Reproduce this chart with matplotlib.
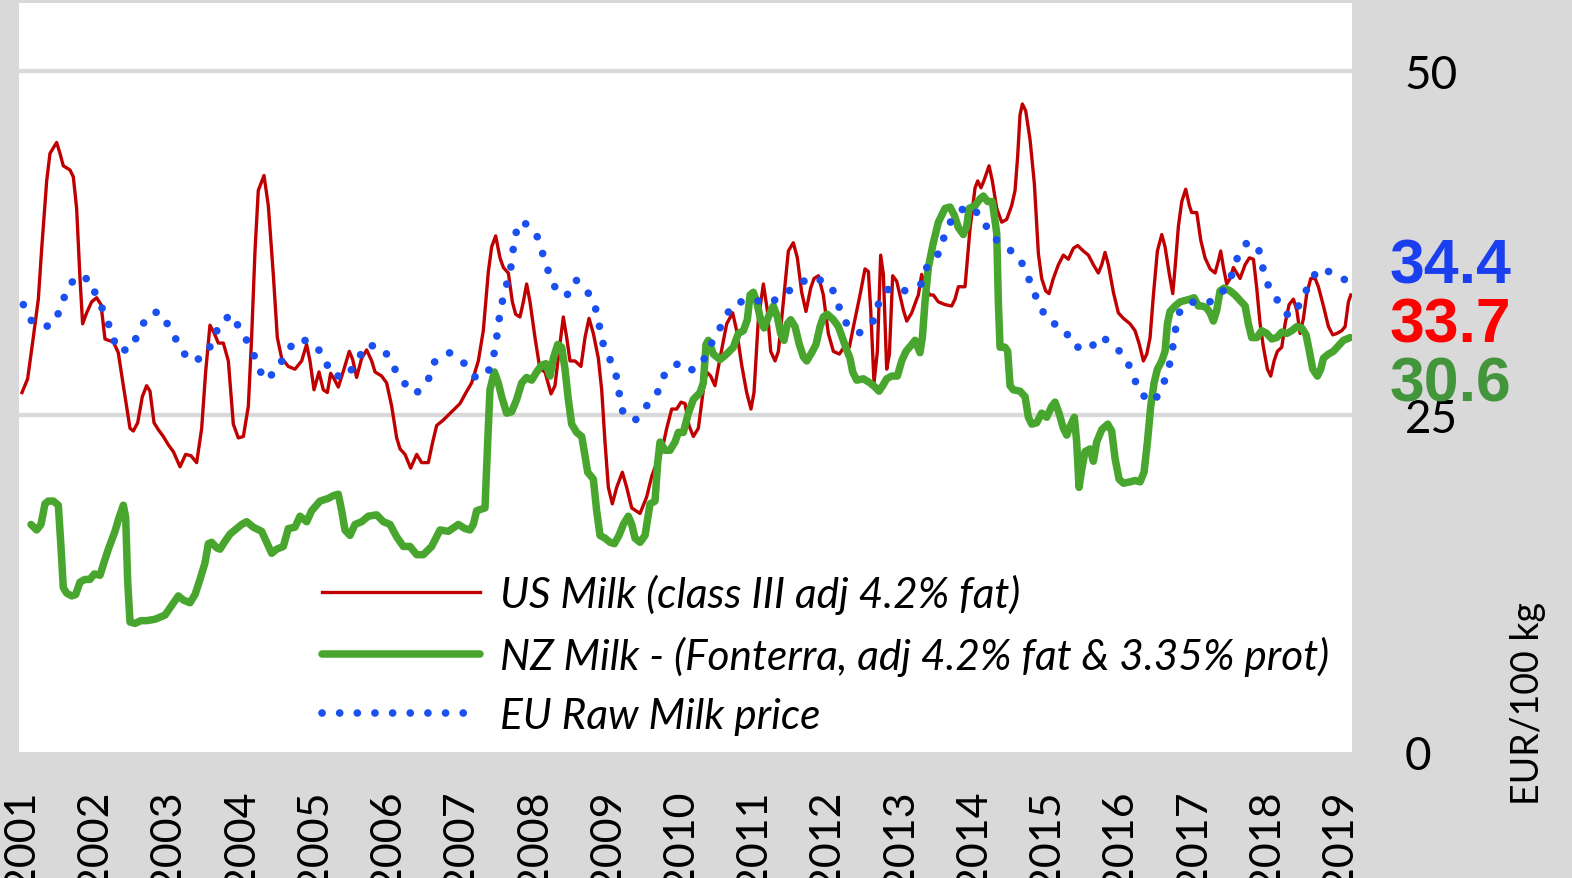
import matplotlib.pyplot as plt

plt.rcParams["font.family"] = ["Lato", "DejaVu Sans"]

# US Milk (class III adj 4.2% fat), EUR/100 kg
us_years = [
    2001.0, 2001.077, 2001.154, 2001.223, 2001.268, 2001.337, 2001.382, 2001.473, 2001.519, 2001.564,
    2001.655, 2001.701, 2001.746, 2001.792, 2001.828, 2001.883, 2001.951, 2002.019, 2002.079, 2002.133,
    2002.179, 2002.247, 2002.315, 2002.384, 2002.475, 2002.520, 2002.580, 2002.643, 2002.702, 2002.748,
    2002.803, 2002.862, 2002.930, 2002.998, 2003.067, 2003.158, 2003.235, 2003.308, 2003.385, 2003.454,
    2003.508, 2003.567, 2003.627, 2003.681, 2003.750, 2003.818, 2003.886, 2003.954, 2004.023, 2004.091,
    2004.136, 2004.182, 2004.227, 2004.305, 2004.364, 2004.432, 2004.487, 2004.546, 2004.637, 2004.728,
    2004.819, 2004.887, 2004.933, 2004.988, 2005.056, 2005.115, 2005.170, 2005.215, 2005.261, 2005.320,
    2005.397, 2005.470, 2005.516, 2005.570, 2005.639, 2005.707, 2005.776, 2005.821, 2005.912, 2005.980,
    2006.049, 2006.117, 2006.163, 2006.231, 2006.308, 2006.390, 2006.458, 2006.549, 2006.609, 2006.663,
    2006.754, 2006.868, 2006.982, 2007.064, 2007.141, 2007.232, 2007.300, 2007.369, 2007.414, 2007.469,
    2007.528, 2007.574, 2007.642, 2007.697, 2007.742, 2007.801, 2007.847, 2007.892, 2007.938, 2008.006,
    2008.074, 2008.143, 2008.225, 2008.279, 2008.334, 2008.393, 2008.439, 2008.484, 2008.552, 2008.634,
    2008.689, 2008.744, 2008.803, 2008.871, 2008.917, 2008.962, 2009.008, 2009.062, 2009.122, 2009.199,
    2009.258, 2009.327, 2009.440, 2009.531, 2009.600, 2009.668, 2009.736, 2009.805, 2009.873, 2009.941,
    2010.000, 2010.055, 2010.109, 2010.169, 2010.237, 2010.305, 2010.351, 2010.405, 2010.464, 2010.533,
    2010.624, 2010.706, 2010.760, 2010.829, 2010.897, 2010.956, 2010.997, 2011.056, 2011.125, 2011.179,
    2011.225, 2011.284, 2011.330, 2011.398, 2011.466, 2011.534, 2011.589, 2011.648, 2011.707, 2011.771,
    2011.817, 2011.876, 2011.944, 2012.012, 2012.081, 2012.163, 2012.226, 2012.299, 2012.363, 2012.445,
    2012.513, 2012.559, 2012.591, 2012.636, 2012.682, 2012.727, 2012.764, 2012.809, 2012.846, 2012.891,
    2012.946, 2013.037, 2013.083, 2013.151, 2013.219, 2013.242, 2013.287, 2013.333, 2013.401, 2013.446,
    2013.515, 2013.606, 2013.697, 2013.742, 2013.788, 2013.879, 2013.947, 2014.016, 2014.052, 2014.097,
    2014.143, 2014.207, 2014.252, 2014.312, 2014.380, 2014.448, 2014.516, 2014.562, 2014.598, 2014.630,
    2014.662, 2014.708, 2014.767, 2014.826, 2014.881, 2014.926, 2014.981, 2015.026, 2015.085, 2015.154,
    2015.222, 2015.290, 2015.359, 2015.418, 2015.495, 2015.564, 2015.632, 2015.700, 2015.746, 2015.791,
    2015.837, 2015.905, 2015.973, 2016.042, 2016.133, 2016.201, 2016.260, 2016.315, 2016.361, 2016.406,
    2016.452, 2016.506, 2016.566, 2016.611, 2016.670, 2016.716, 2016.748, 2016.793, 2016.839, 2016.893,
    2016.943, 2016.975, 2017.044, 2017.098, 2017.157, 2017.226, 2017.294, 2017.340, 2017.371, 2017.408,
    2017.453, 2017.499, 2017.544, 2017.590, 2017.635, 2017.704, 2017.763, 2017.818, 2017.863, 2017.909,
    2017.954, 2018.009, 2018.054, 2018.100, 2018.145, 2018.205, 2018.250, 2018.305, 2018.364, 2018.410,
    2018.455, 2018.501, 2018.546, 2018.601, 2018.660, 2018.705, 2018.774, 2018.842, 2018.901, 2018.956,
    2019.024, 2019.070, 2019.115, 2019.147,
]
us_vals = [
    26.6, 27.6, 30.6, 33.4, 37.0, 42.0, 44.0, 44.8, 44.0, 43.1,
    42.8, 42.3, 40.0, 34.9, 31.6, 32.4, 33.2, 33.5, 33.0, 30.5,
    30.4, 30.3, 29.5, 27.1, 24.0, 23.8, 24.4, 26.3, 27.1, 26.7,
    24.4, 23.9, 23.4, 22.8, 22.3, 21.2, 22.1, 22.0, 21.5, 24.0,
    28.1, 31.5, 30.9, 30.2, 30.2, 28.9, 24.3, 23.3, 23.4, 25.6,
    30.6, 36.9, 41.3, 42.4, 40.2, 35.2, 30.6, 29.1, 28.5, 28.3,
    28.9, 30.1, 28.9, 26.8, 28.1, 26.8, 26.6, 28.0, 27.6, 27.0,
    28.3, 29.6, 29.0, 27.7, 29.1, 29.7, 28.9, 28.1, 27.8, 27.3,
    25.6, 23.3, 22.5, 22.1, 21.1, 22.1, 21.5, 21.5, 23.0, 24.2,
    24.6, 25.2, 25.8, 26.6, 27.3, 28.9, 31.1, 35.4, 37.2, 38.0,
    36.4, 35.7, 35.3, 33.2, 32.3, 32.1, 33.2, 34.5, 33.2, 30.6,
    28.3, 28.1, 26.5, 27.1, 29.6, 32.1, 30.6, 28.9, 28.9, 28.5,
    30.6, 32.0, 30.9, 29.1, 26.8, 23.0, 19.7, 18.5, 19.7, 20.8,
    19.7, 18.2, 17.8, 19.0, 20.5, 21.5, 22.3, 24.0, 25.4, 25.4,
    25.9, 25.8, 24.2, 23.4, 24.0, 26.8, 28.1, 27.8, 27.1, 29.1,
    31.6, 32.4, 31.1, 28.6, 26.6, 25.4, 26.6, 31.9, 34.5, 32.6,
    29.6, 28.9, 29.6, 33.2, 36.9, 37.5, 36.4, 33.9, 32.5, 34.2,
    34.9, 35.1, 33.7, 30.9, 29.6, 29.4, 29.9, 29.9, 31.6, 33.7,
    35.6, 35.4, 32.6, 27.3, 29.6, 36.6, 35.2, 28.3, 29.4, 35.1,
    34.7, 32.6, 31.8, 32.4, 33.4, 33.7, 35.2, 34.2, 33.7, 33.7,
    33.2, 33.0, 32.9, 33.4, 34.3, 34.3, 38.5, 41.5, 42.0, 41.5,
    42.1, 43.1, 42.0, 40.0, 39.0, 39.2, 40.2, 41.3, 43.8, 46.8,
    47.6, 47.1, 45.0, 41.8, 36.7, 34.9, 34.0, 33.8, 34.9, 35.9,
    36.6, 36.3, 37.1, 37.3, 36.9, 36.6, 35.9, 35.3, 35.9, 36.8,
    35.9, 33.9, 32.4, 32.0, 31.6, 31.1, 30.1, 28.9, 29.4, 30.6,
    33.7, 36.9, 38.1, 37.2, 35.2, 33.8, 35.7, 38.7, 40.5, 41.4,
    40.2, 39.7, 39.7, 37.7, 36.4, 35.6, 35.3, 36.2, 36.9, 35.7,
    34.5, 34.9, 35.7, 35.3, 34.9, 35.9, 36.4, 36.3, 34.2, 31.6,
    29.9, 28.3, 27.8, 28.9, 29.6, 29.9, 31.6, 33.0, 33.4, 32.6,
    30.9, 32.0, 33.8, 34.9, 34.9, 34.3, 32.9, 31.4, 30.8, 30.9,
    31.1, 31.4, 33.2, 33.7,
]

# NZ Milk (Fonterra, adj 4.2% fat & 3.35% prot), EUR/100 kg
nz_years = [
    2001.123, 2001.200, 2001.259, 2001.314, 2001.359, 2001.428, 2001.496, 2001.532, 2001.564, 2001.610,
    2001.678, 2001.733, 2001.792, 2001.860, 2001.928, 2001.988, 2002.065, 2002.124, 2002.179, 2002.270,
    2002.325, 2002.384, 2002.416, 2002.443, 2002.475, 2002.543, 2002.625, 2002.702, 2002.816, 2002.953,
    2003.044, 2003.135, 2003.203, 2003.294, 2003.363, 2003.431, 2003.499, 2003.545, 2003.590, 2003.659,
    2003.704, 2003.763, 2003.841, 2003.932, 2004.000, 2004.068, 2004.159, 2004.273, 2004.341, 2004.410,
    2004.478, 2004.569, 2004.637, 2004.728, 2004.797, 2004.888, 2004.956, 2005.070, 2005.184, 2005.252,
    2005.320, 2005.366, 2005.411, 2005.479, 2005.548, 2005.639, 2005.730, 2005.844, 2005.935, 2006.026,
    2006.117, 2006.208, 2006.299, 2006.390, 2006.481, 2006.595, 2006.709, 2006.823, 2006.959, 2007.050,
    2007.118, 2007.164, 2007.209, 2007.323, 2007.360, 2007.391, 2007.451, 2007.505, 2007.551, 2007.619,
    2007.687, 2007.756, 2007.824, 2007.892, 2007.961, 2008.029, 2008.097, 2008.156, 2008.211, 2008.257,
    2008.316, 2008.370, 2008.416, 2008.461, 2008.507, 2008.575, 2008.644, 2008.689, 2008.726, 2008.803,
    2008.848, 2008.894, 2008.962, 2009.031, 2009.090, 2009.153, 2009.213, 2009.281, 2009.327, 2009.372,
    2009.440, 2009.509, 2009.577, 2009.645, 2009.682, 2009.714, 2009.782, 2009.850, 2009.918, 2009.964,
    2010.032, 2010.101, 2010.169, 2010.260, 2010.305, 2010.342, 2010.373, 2010.442, 2010.533, 2010.624,
    2010.715, 2010.783, 2010.852, 2010.906, 2010.943, 2010.988, 2011.034, 2011.088, 2011.134, 2011.193,
    2011.261, 2011.316, 2011.361, 2011.407, 2011.452, 2011.498, 2011.557, 2011.616, 2011.671, 2011.717,
    2011.785, 2011.844, 2011.899, 2011.944, 2011.999, 2012.081, 2012.149, 2012.217, 2012.263, 2012.308,
    2012.345, 2012.400, 2012.491, 2012.582, 2012.650, 2012.705, 2012.755, 2012.809, 2012.878, 2012.955,
    2013.014, 2013.073, 2013.137, 2013.196, 2013.264, 2013.296, 2013.333, 2013.378, 2013.446, 2013.515,
    2013.606, 2013.674, 2013.733, 2013.788, 2013.856, 2013.902, 2013.934, 2014.016, 2014.084, 2014.129,
    2014.189, 2014.252, 2014.312, 2014.334, 2014.357, 2014.425, 2014.462, 2014.494, 2014.539, 2014.630,
    2014.699, 2014.744, 2014.790, 2014.858, 2014.926, 2014.994, 2015.063, 2015.108, 2015.163, 2015.222,
    2015.268, 2015.327, 2015.372, 2015.404, 2015.436, 2015.473, 2015.518, 2015.586, 2015.632, 2015.677,
    2015.746, 2015.828, 2015.882, 2015.928, 2015.983, 2016.042, 2016.133, 2016.201, 2016.270, 2016.324,
    2016.370, 2016.415, 2016.461, 2016.506, 2016.566, 2016.611, 2016.643, 2016.679, 2016.748, 2016.816,
    2016.884, 2016.953, 2017.007, 2017.066, 2017.112, 2017.171, 2017.226, 2017.271, 2017.317, 2017.362,
    2017.417, 2017.499, 2017.567, 2017.635, 2017.704, 2017.749, 2017.795, 2017.863, 2017.931, 2018.000,
    2018.068, 2018.136, 2018.205, 2018.273, 2018.341, 2018.410, 2018.478, 2018.537, 2018.582, 2018.628,
    2018.692, 2018.737, 2018.774, 2018.842, 2018.910, 2018.979, 2019.047, 2019.138,
]
nz_vals = [
    17.0, 16.6, 17.0, 18.5, 18.7, 18.7, 18.4, 15.4, 12.4, 12.0,
    11.8, 11.9, 12.8, 13.0, 13.0, 13.4, 13.3, 14.3, 15.2, 16.5,
    17.5, 18.4, 17.5, 12.9, 9.9, 9.8, 10.0, 10.0, 10.1, 10.4,
    11.1, 11.8, 11.5, 11.3, 11.9, 13.0, 14.2, 15.6, 15.7, 15.3,
    15.2, 15.7, 16.3, 16.7, 17.0, 17.2, 16.8, 16.5, 15.7, 14.9,
    15.2, 15.4, 16.7, 16.8, 17.6, 17.2, 18.0, 18.7, 18.9, 19.1,
    19.2, 18.0, 16.6, 16.2, 17.0, 17.2, 17.6, 17.7, 17.2, 17.0,
    16.1, 15.4, 15.4, 14.8, 14.8, 15.4, 16.6, 16.5, 17.0, 16.7,
    16.6, 17.0, 18.0, 18.2, 23.0, 26.8, 28.1, 27.3, 26.3, 25.1,
    25.2, 26.1, 27.3, 27.7, 27.5, 28.1, 28.6, 28.7, 27.8, 29.1,
    30.1, 29.9, 28.3, 26.1, 24.3, 23.7, 23.4, 22.0, 20.8, 20.3,
    18.0, 16.2, 16.0, 15.7, 15.6, 16.2, 17.0, 17.6, 17.0, 16.0,
    15.7, 16.2, 18.5, 18.7, 21.5, 23.0, 22.4, 22.4, 23.0, 23.7,
    23.7, 25.1, 26.1, 26.6, 27.3, 30.1, 30.4, 29.4, 29.0, 29.4,
    29.9, 30.9, 31.1, 31.9, 33.7, 33.9, 33.2, 31.9, 31.3, 32.1,
    32.9, 32.1, 30.9, 30.4, 31.6, 31.9, 31.4, 30.1, 29.2, 28.9,
    29.5, 30.1, 31.4, 32.1, 32.3, 31.9, 31.4, 30.4, 29.7, 29.1,
    28.1, 27.5, 27.6, 27.3, 27.0, 26.7, 27.1, 27.6, 27.8, 27.8,
    28.9, 29.6, 30.0, 30.4, 29.5, 30.6, 33.2, 35.7, 37.5, 39.0,
    40.0, 40.1, 39.5, 38.6, 38.1, 38.7, 40.0, 40.2, 40.7, 40.9,
    40.5, 40.5, 38.2, 33.2, 29.9, 29.9, 29.6, 27.1, 26.8, 26.7,
    26.3, 24.8, 24.3, 24.4, 25.1, 24.8, 25.6, 25.9, 25.1, 24.0,
    23.5, 24.3, 24.8, 23.0, 19.7, 21.0, 22.3, 22.5, 21.6, 23.0,
    23.9, 24.3, 23.8, 21.8, 20.3, 20.0, 20.1, 20.2, 20.1, 20.8,
    23.0, 25.6, 27.3, 28.3, 28.9, 29.6, 31.6, 32.5, 32.9, 33.2,
    33.3, 33.4, 33.5, 32.9, 32.9, 32.8, 32.4, 31.8, 32.6, 34.0,
    34.2, 34.0, 33.7, 33.3, 32.9, 31.6, 30.6, 30.6, 31.1, 30.9,
    30.5, 30.6, 31.0, 30.9, 31.1, 31.4, 31.3, 30.8, 29.6, 28.3,
    27.8, 28.3, 29.1, 29.4, 29.6, 30.0, 30.4, 30.6,
]

# EU raw milk price, EUR/100 kg
eu_years = [
    2001.018, 2001.141, 2001.373, 2001.528, 2001.596, 2001.742, 2001.938, 2002.019, 2002.147, 2002.220,
    2002.315, 2002.498, 2002.598, 2002.734, 2002.875, 2003.021, 2003.140, 2003.281, 2003.463, 2003.613,
    2003.691, 2003.864, 2003.987, 2004.127, 2004.218, 2004.309, 2004.487, 2004.601, 2004.760, 2004.947,
    2005.124, 2005.215, 2005.434, 2005.571, 2005.712, 2005.939, 2006.058, 2006.199, 2006.376, 2006.540,
    2006.627, 2006.836, 2007.046, 2007.209, 2007.391, 2007.460, 2007.496, 2007.528, 2007.587, 2007.665,
    2007.701, 2007.724, 2007.833, 2008.020, 2008.106, 2008.184, 2008.284, 2008.434, 2008.562, 2008.680,
    2008.817, 2008.876, 2008.926, 2009.031, 2009.122, 2009.163, 2009.213, 2009.377, 2009.541, 2009.704,
    2009.786, 2009.987, 2010.169, 2010.342, 2010.442, 2010.578, 2010.697, 2010.943, 2011.198, 2011.412,
    2011.580, 2011.817, 2012.049, 2012.140, 2012.227, 2012.427, 2012.623, 2012.700, 2012.841, 2013.073,
    2013.280, 2013.369, 2013.551, 2013.606, 2013.733, 2013.915, 2014.116, 2014.216, 2014.407, 2014.612,
    2014.721, 2014.812, 2014.922, 2015.013, 2015.231, 2015.354, 2015.568, 2015.732, 2015.900, 2016.078,
    2016.178, 2016.274, 2016.461, 2016.588, 2016.670, 2016.716, 2016.757, 2016.821, 2017.035, 2017.253,
    2017.394, 2017.526, 2017.604, 2017.740, 2017.890, 2017.950, 2018.032, 2018.173, 2018.305, 2018.464,
    2018.569, 2018.701, 2018.851, 2019.070, 2019.150,
]
eu_vals = [
    33.0, 31.7, 31.4, 32.6, 33.9, 35.1, 34.8, 33.5, 32.2, 30.9,
    29.6, 29.8, 31.1, 32.3, 32.5, 31.3, 30.1, 28.9, 29.1, 30.3,
    31.6, 32.3, 31.1, 29.9, 28.6, 27.5, 28.2, 29.5, 30.5, 30.3,
    29.3, 27.9, 27.7, 28.9, 30.1, 29.8, 28.6, 27.4, 26.5, 27.4,
    28.8, 29.5, 28.7, 27.6, 28.3, 29.7, 31.1, 32.4, 33.9, 35.3,
    36.6, 38.0, 39.1, 38.2, 36.8, 35.5, 34.2, 33.6, 34.8, 34.3,
    33.1, 31.7, 30.3, 29.0, 27.7, 26.3, 25.0, 24.6, 25.7, 26.8,
    28.1, 28.8, 28.2, 29.2, 30.5, 31.7, 33.0, 33.4, 33.1, 33.7,
    34.5, 35.0, 34.4, 33.1, 31.8, 30.9, 31.8, 33.1, 34.2, 34.0,
    34.5, 35.9, 36.9, 38.3, 39.5, 40.2, 39.4, 38.1, 37.3, 36.5,
    35.3, 34.0, 32.7, 31.8, 31.3, 30.0, 29.7, 30.7, 30.1, 29.1,
    27.8, 26.5, 25.9, 27.2, 28.6, 29.9, 31.3, 32.7, 33.3, 33.2,
    33.9, 35.2, 36.5, 37.6, 37.0, 35.6, 34.2, 33.1, 32.1, 33.1,
    34.4, 35.6, 35.4, 34.8, 34.4,
]

years = list(range(2001, 2020))
right_ticks = [0, 25, 50]
latest = [("34.4", "#1a3ff0"), ("33.7", "#ff0000"), ("30.6", "#43953c")]

W, H = 1572, 879
BG = "#d9d9d9"

fig = plt.figure(figsize=(W / 100, H / 100), dpi=100, facecolor=BG)
ax = fig.add_axes([19 / W, 1 - 753 / H, (1352 - 19) / W, (753 - 4) / H])
ax.set_facecolor("white")

ax.plot(us_years, us_vals, color="#c00000", lw=2.4, solid_joinstyle="round",
        label="US Milk (class III adj 4.2% fat)", zorder=3)
ax.plot(nz_years, nz_vals, color="#48a62e", lw=5.4, solid_joinstyle="round",
        solid_capstyle="round", label="NZ Milk - (Fonterra, adj 4.2% fat & 3.35% prot)", zorder=4)
ax.plot(eu_years, eu_vals, color="#1a4ff0", lw=5.5, linestyle=(0, (0.01, 2.3)),
        dash_capstyle="round", label="EU Raw Milk price", zorder=5)

for v in right_ticks[1:]:
    ax.axhline(v, color=BG, lw=3.1, zorder=1)

ylo = 0.44
ax.set_xlim(2000.959, 2019.164)
ax.set_ylim(ylo, 54.95)

ax.set_xticks(years)
ax.set_xticklabels([str(y) for y in years], rotation=90, fontsize=31)
ax.tick_params(axis="x", length=0, pad=27)

ax.yaxis.tick_right()
ax.set_yticks([ylo] + right_ticks[1:])
ax.set_yticklabels([str(t) for t in right_ticks], fontsize=33)
ax.tick_params(axis="y", length=0, pad=38)

for s in ax.spines.values():
    s.set_visible(False)

leg = ax.legend(loc="upper left", bbox_to_anchor=(322 / W, 1 - 575 / H),
                bbox_transform=fig.transFigure, frameon=False, borderpad=0,
                borderaxespad=0, handlelength=3.73, handletextpad=0.47,
                labelspacing=0.5, prop={"family": "Lato", "style": "italic", "size": 30.5})

fig.text(1528 / W, 1 - 704 / H, "EUR/100 kg", rotation=90, ha="center", va="center",
         fontsize=27)

for (txt, col), base in zip(latest, [283, 343, 402]):
    fig.text(1450 / W, 1 - base / H, txt, color=col, ha="center", va="baseline",
             fontsize=45, fontweight="bold", family="Liberation Sans")

fig.savefig("out.png", dpi=100, facecolor=BG)
